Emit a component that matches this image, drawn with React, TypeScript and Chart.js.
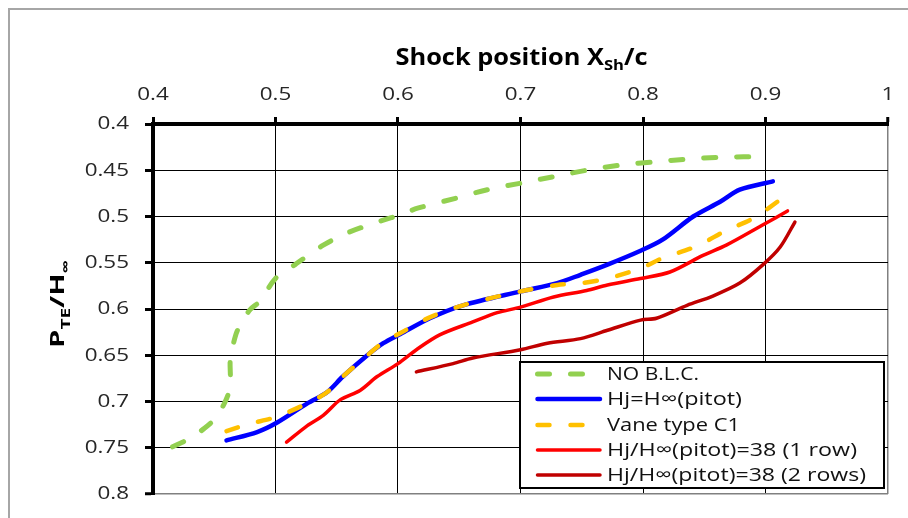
import React, { useEffect, useRef } from "react";
import { Chart, registerables } from "chart.js";

Chart.register(...registerables);

// ---------- data ----------
const xTickValues = [0.4, 0.5, 0.6, 0.7, 0.8, 0.9, 1];
const xTickLabels = ["0.4", "0.5", "0.6", "0.7", "0.8", "0.9", "1"];
const yTickValues = [0.4, 0.45, 0.5, 0.55, 0.6, 0.65, 0.7, 0.75, 0.8];
const yTickLabels = ["0.4", "0.45", "0.5", "0.55", "0.6", "0.65", "0.7", "0.75", "0.8"];

const seriesLabels = [
  "NO B.L.C.",
  "Hj=H\u221E(pitot)",
  "Vane type C1",
  "Hj/H\u221E(pitot)=38 (1 row)",
  "Hj/H\u221E(pitot)=38 (2 rows)",
];

const noBlcX = [0.416, 0.43, 0.442, 0.451, 0.459, 0.463, 0.463, 0.465, 0.469, 0.479, 0.487, 0.5, 0.516, 0.539, 0.56, 0.588, 0.602, 0.616, 0.648, 0.673, 0.7, 0.727, 0.754, 0.784, 0.808, 0.836, 0.863, 0.901];
const noBlcY = [0.749, 0.74, 0.729, 0.718, 0.7, 0.684, 0.655, 0.641, 0.623, 0.601, 0.592, 0.567, 0.552, 0.531, 0.517, 0.504, 0.498, 0.491, 0.48, 0.471, 0.464, 0.457, 0.45, 0.444, 0.441, 0.438, 0.436, 0.435];

const pitotX = [0.46, 0.485, 0.501, 0.526, 0.542, 0.555, 0.575, 0.588, 0.602, 0.626, 0.653, 0.7, 0.73, 0.749, 0.771, 0.798, 0.816, 0.841, 0.863, 0.879, 0.906];
const pitotY = [0.742, 0.733, 0.723, 0.702, 0.69, 0.673, 0.65, 0.637, 0.627, 0.61, 0.596, 0.581, 0.572, 0.563, 0.552, 0.537, 0.525, 0.5, 0.484, 0.471, 0.462];

const vaneX = [0.46, 0.479, 0.5, 0.526, 0.542, 0.555, 0.575, 0.588, 0.602, 0.626, 0.653, 0.7, 0.73, 0.75, 0.771, 0.798, 0.816, 0.844, 0.868, 0.89, 0.914];
const vaneY = [0.732, 0.724, 0.717, 0.702, 0.69, 0.673, 0.65, 0.636, 0.626, 0.609, 0.596, 0.581, 0.574, 0.572, 0.567, 0.556, 0.545, 0.532, 0.515, 0.502, 0.48];

const oneRowX = [0.509, 0.526, 0.539, 0.553, 0.569, 0.583, 0.6, 0.615, 0.634, 0.661, 0.681, 0.7, 0.727, 0.754, 0.771, 0.798, 0.822, 0.849, 0.868, 0.898, 0.918];
const oneRowY = [0.744, 0.726, 0.715, 0.698, 0.688, 0.673, 0.659, 0.644, 0.628, 0.614, 0.604, 0.598, 0.587, 0.58, 0.574, 0.567, 0.56, 0.542, 0.531, 0.509, 0.494];

const twoRowX = [0.615, 0.645, 0.661, 0.7, 0.722, 0.749, 0.771, 0.798, 0.811, 0.836, 0.857, 0.879, 0.898, 0.912, 0.924];
const twoRowY = [0.668, 0.659, 0.653, 0.644, 0.637, 0.632, 0.623, 0.612, 0.61, 0.596, 0.586, 0.572, 0.552, 0.533, 0.506];

const xTitleRuns = [
  { text: "Shock position X", sub: false },
  { text: "Sh", sub: true },
  { text: "/c", sub: false },
];
const yTitleRuns = [
  { text: "P", sub: false },
  { text: "TE", sub: true },
  { text: "/H", sub: false },
  { text: "\u221E", sub: true },
];

// ---------- layout / style ----------
const FONT = "'Open Sans', 'DejaVu Sans', sans-serif";
const TICK_STRETCH = 1.18;
const legendTextWidths = [92, 135, 133, 250, 259];
const legendRowY = [374, 399, 425, 450, 475];

function pts(xs: number[], ys: number[]) {
  return xs.map((x, i) => ({ x, y: ys[i] }));
}

function drawRuns(
  ctx: CanvasRenderingContext2D,
  runs: { text: string; sub: boolean }[],
  mainSize: number,
  subSize: number,
  subDrop: number,
  targetWidth: number,
  align: "center" | "left"
) {
  const widths = runs.map((r) => {
    ctx.font = `bold ${r.sub ? subSize : mainSize}px ${FONT}`;
    return ctx.measureText(r.text).width;
  });
  const total = widths.reduce((a, b) => a + b, 0);
  const sx = targetWidth / total;
  ctx.save();
  ctx.scale(sx, 1);
  let x = align === "center" ? -total / 2 : 0;
  runs.forEach((r, i) => {
    ctx.font = `bold ${r.sub ? subSize : mainSize}px ${FONT}`;
    ctx.fillText(r.text, x, r.sub ? subDrop : 0);
    x += widths[i];
  });
  ctx.restore();
}

function drawStretched(
  ctx: CanvasRenderingContext2D,
  text: string,
  x: number,
  y: number,
  align: CanvasTextAlign,
  sx: number
) {
  ctx.save();
  ctx.translate(x, y);
  ctx.scale(sx, 1);
  ctx.textAlign = align;
  ctx.fillText(text, 0, 0);
  ctx.restore();
}

const decorPlugin = {
  id: "decor",
  beforeDraw(chart: any) {
    const ctx: CanvasRenderingContext2D = chart.ctx;
    ctx.save();
    ctx.fillStyle = "#ffffff";
    ctx.fillRect(0, 0, chart.width, chart.height);
    ctx.strokeStyle = "#a6a6a6";
    ctx.lineWidth = 2;
    ctx.beginPath();
    ctx.moveTo(9, chart.height + 5);
    ctx.lineTo(9, 9);
    ctx.lineTo(chart.width + 5, 9);
    ctx.stroke();
    ctx.restore();
  },
  afterDraw(chart: any) {
    const ctx: CanvasRenderingContext2D = chart.ctx;
    const area = chart.chartArea;
    const xs = chart.scales.x;
    const ys = chart.scales.y;
    ctx.save();

    // tick labels
    ctx.fillStyle = "#262626";
    ctx.font = `19px ${FONT}`;
    ctx.textBaseline = "middle";
    xTickValues.forEach((v, i) => {
      drawStretched(ctx, xTickLabels[i], xs.getPixelForValue(v), 94.5, "center", TICK_STRETCH);
    });
    yTickValues.forEach((v, i) => {
      drawStretched(ctx, yTickLabels[i], area.left - 24, ys.getPixelForValue(v), "right", TICK_STRETCH);
    });

    // titles
    ctx.fillStyle = "#000";
    ctx.textBaseline = "alphabetic";
    ctx.textAlign = "left";
    ctx.save();
    ctx.translate((area.left + area.right) / 2 + 1, 65);
    drawRuns(ctx, xTitleRuns, 23, 15, 5, 252, "center");
    ctx.restore();
    ctx.save();
    ctx.translate(64, 348);
    ctx.rotate(-Math.PI / 2);
    drawRuns(ctx, yTitleRuns, 20, 13, 6, 88, "left");
    ctx.restore();

    // legend
    const bx = 520, by = 362, bw = 364, bh = 126;
    ctx.fillStyle = "#fff";
    ctx.fillRect(bx, by, bw, bh);
    ctx.strokeStyle = "#000";
    ctx.lineWidth = 2;
    ctx.strokeRect(bx, by, bw, bh);
    ctx.font = `19px ${FONT}`;
    ctx.textBaseline = "middle";
    chart.data.datasets.forEach((ds: any, i: number) => {
      const y = legendRowY[i];
      ctx.save();
      ctx.strokeStyle = ds.borderColor;
      ctx.lineWidth = ds.borderWidth;
      ctx.lineCap = "round";
      ctx.setLineDash(ds.borderDash || []);
      ctx.beginPath();
      ctx.moveTo(537.5, y);
      ctx.lineTo(600, y);
      ctx.stroke();
      ctx.restore();
      ctx.fillStyle = "#111";
      const w = ctx.measureText(ds.label).width;
      drawStretched(ctx, ds.label, 607, y + 1, "left", legendTextWidths[i] / w);
    });
    ctx.restore();
  },
};

export default function App() {
  const ref = useRef<HTMLCanvasElement | null>(null);

  useEffect(() => {
    if (!ref.current) return;
    const dash = [12, 21];
    const chart = new Chart(ref.current, {
      type: "scatter",
      data: {
        datasets: [
          { label: seriesLabels[0], data: pts(noBlcX, noBlcY), borderColor: "#92D050", borderWidth: 5, borderDash: dash, order: 0 },
          { label: seriesLabels[1], data: pts(pitotX, pitotY), borderColor: "#0000FF", borderWidth: 4.5, order: 2 },
          { label: seriesLabels[2], data: pts(vaneX, vaneY), borderColor: "#FFC000", borderWidth: 4.5, borderDash: dash, order: 1 },
          { label: seriesLabels[3], data: pts(oneRowX, oneRowY), borderColor: "#FF0000", borderWidth: 3.5, order: 3 },
          { label: seriesLabels[4], data: pts(twoRowX, twoRowY), borderColor: "#C00000", borderWidth: 3.5, order: 4 },
        ].map((d) => ({
          ...d,
          showLine: true,
          pointRadius: 0,
          pointHoverRadius: 0,
          tension: 0.3,
          borderCapStyle: "round" as const,
          borderJoinStyle: "round" as const,
          fill: false,
        })),
      },
      options: {
        animation: false,
        responsive: false,
        layout: { padding: { left: 0, top: 0, right: 20, bottom: 24 } },
        plugins: {
          legend: { display: false },
          tooltip: { enabled: false },
          title: { display: false },
        },
        scales: {
          x: {
            type: "linear",
            position: "top",
            min: 0.4,
            max: 1,
            afterBuildTicks: (s: any) => {
              s.ticks = xTickValues.map((v) => ({ value: v }));
            },
            afterFit: (s: any) => {
              s.height = 124;
            },
            ticks: { display: false },
            grid: {
              color: (c: any) => (c.tick && c.tick.value === 1 ? "#808080" : "#000"),
              lineWidth: (c: any) => (c.tick && c.tick.value === 1 ? 1.5 : 1),
              tickLength: 7,
              tickWidth: 3,
              tickColor: "#000",
            },
            border: { display: true, color: "#000", width: 4 },
          },
          y: {
            type: "linear",
            reverse: true,
            min: 0.4,
            max: 0.8,
            afterBuildTicks: (s: any) => {
              s.ticks = yTickValues.map((v) => ({ value: v }));
            },
            afterFit: (s: any) => {
              s.width = 153;
            },
            ticks: { display: false },
            grid: {
              color: (c: any) => (c.tick && c.tick.value === 0.8 ? "#808080" : "#000"),
              lineWidth: (c: any) => (c.tick && c.tick.value === 0.8 ? 1.5 : 1),
              tickLength: 8,
              tickWidth: 3,
              tickColor: "#000",
            },
            border: { display: true, color: "#000", width: 4 },
          },
        },
      },
      plugins: [decorPlugin],
    } as any);
    return () => chart.destroy();
  }, []);

  return (
    <div style={{ position: "absolute", left: 0, top: 0, width: 908, height: 518 }}>
      <canvas ref={ref} width={908} height={518} style={{ display: "block" }} />
    </div>
  );
}
